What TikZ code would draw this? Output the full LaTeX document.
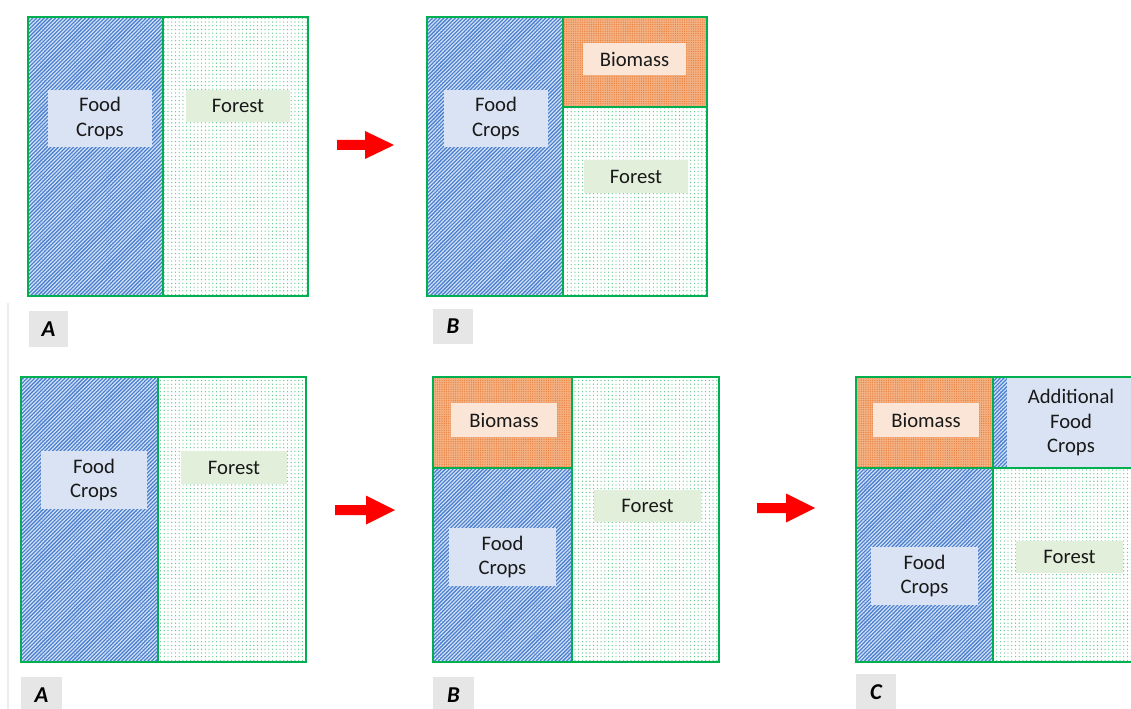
\documentclass[tikz,border=0pt]{standalone}
\usepackage{fontspec}
\setmainfont{Carlito}
\usetikzlibrary{patterns,patterns.meta}
\definecolor{cropblue}{HTML}{4A7FCF}
\definecolor{cropline}{HTML}{D4E2F6}
\definecolor{biofill}{HTML}{F4B183}
\definecolor{biodot}{HTML}{E8803C}
\definecolor{forestdot}{HTML}{5CC88C}
\definecolor{edgegreen}{HTML}{00B050}
\definecolor{foodlbl}{HTML}{DAE3F3}
\definecolor{forestlbl}{HTML}{E2EFDA}
\definecolor{biolbl}{HTML}{FBE5D6}
\definecolor{letterlbl}{HTML}{E7E6E6}
\tikzset{
  cropfill/.style={fill=cropblue, postaction={pattern={Lines[angle=45,distance=2.0pt,line width=0.9pt]}, pattern color=cropline}},
  forestfill/.style={fill=white, postaction={pattern={Dots[radius=0.5pt,distance=2.8pt]}, pattern color=forestdot}},
  biofill/.style={fill=biofill, postaction={pattern={Dots[radius=0.5pt,distance=1.7pt]}, pattern color=biodot}},
  frame/.style={draw=edgegreen, line width=1.1pt},
  lbl/.style n args={3}{fill=#1, minimum width=#2*0.75pt, minimum height=#3*0.75pt, inner sep=0pt, align=center, font=\fontsize{15.5}{18.5}\selectfont, text=black!90},
  letter/.style n args={2}{fill=letterlbl, minimum width=#1*0.75pt, minimum height=#2*0.75pt, inner sep=0pt, font=\fontsize{17}{18}\selectfont\bfseries\itshape},
  bigarrow/.style={fill=red, draw=none},
}
\begin{document}
\begin{tikzpicture}[x=0.75pt,y=-0.75pt]
\clip (0,0) rectangle (1131,709);
\fill[white] (0,0) rectangle (1131,709);
\draw[black!7, line width=0.8pt] (8,303) -- (8,709);

% ---------- top A ----------
\fill[cropfill] (28,17) rectangle (163,296);
\fill[forestfill] (163,17) rectangle (308,296);
\draw[frame] (28,17) rectangle (308,296);
\draw[frame] (163,17) -- (163,296);
\node[lbl={foodlbl}{104}{57}] (tAfood) at (100,118.5) {Food\\Crops};
\node[lbl={forestlbl}{104}{32}] (tAforest) at (238,106) {Forest};
\node[letter={39}{36}] (tAletter) at (48.5,329) {A};

% arrow 1
\fill[bigarrow] (337,140) -- (365,140) -- (365,131) -- (394,145) -- (365,159) -- (365,150) -- (337,150) -- cycle;

% ---------- top B ----------
\fill[cropfill] (427,17) rectangle (563,296);
\fill[biofill] (563,17) rectangle (707,107);
\fill[forestfill] (563,107) rectangle (707,296);
\draw[frame] (427,17) rectangle (707,296);
\draw[frame] (563,17) -- (563,296);
\draw[frame] (563,107) -- (707,107);
\node[lbl={biolbl}{103}{32}] (tBbio) at (634.5,59) {Biomass};
\node[lbl={foodlbl}{104}{57}] (tBfood) at (496,118.5) {Food\\Crops};
\node[lbl={forestlbl}{104}{33}] (tBforest) at (636,176.5) {Forest};
\node[letter={40}{35}] (tBletter) at (453,326) {B};

% ---------- bottom A ----------
\fill[cropfill] (21,377) rectangle (158,662);
\fill[forestfill] (158,377) rectangle (306,662);
\draw[frame] (21,377) rectangle (306,662);
\draw[frame] (158,377) -- (158,662);
\node[lbl={foodlbl}{106}{58}] (bAfood) at (94,480) {Food\\Crops};
\node[lbl={forestlbl}{106}{33}] (bAforest) at (234,467.5) {Forest};
\node[letter={41}{36}] (bAletter) at (41.5,695) {A};

% arrow 2
\fill[bigarrow] (335,505) -- (366,505) -- (366,495.5) -- (395,510) -- (366,524.5) -- (366,515) -- (335,515) -- cycle;

% ---------- bottom B ----------
\fill[biofill] (433,377) rectangle (572,468);
\fill[cropfill] (433,468) rectangle (572,662);
\fill[forestfill] (572,377) rectangle (719,662);
\draw[frame] (433,377) rectangle (719,662);
\draw[frame] (572,377) -- (572,662);
\draw[frame] (433,468) -- (572,468);
\node[lbl={biolbl}{106}{34}] (bBbio) at (504,420) {Biomass};
\node[lbl={foodlbl}{107}{58}] (bBfood) at (502.5,557) {Food\\Crops};
\node[lbl={forestlbl}{107}{32}] (bBforest) at (647.5,506) {Forest};
\node[letter={41}{36}] (bBletter) at (453.5,695) {B};

% arrow 3
\fill[bigarrow] (757,503) -- (786,503) -- (786,493.5) -- (815,508) -- (786,522.5) -- (786,513) -- (757,513) -- cycle;

% ---------- bottom C ----------
\fill[biofill] (856,377) rectangle (993,468);
\fill[cropfill] (993,377) rectangle (1140,468);
\fill[cropfill] (856,468) rectangle (993,662);
\fill[forestfill] (993,468) rectangle (1140,662);
\draw[frame] (856,377) rectangle (1140,662);
\draw[frame] (993,377) -- (993,662);
\draw[frame] (856,468) -- (1140,468);
\node[lbl={biolbl}{106}{34}] (bCbio) at (926,420) {Biomass};
\node[lbl={foodlbl}{128}{89}] (bCadd) at (1071,422.5) {Additional\\Food\\Crops};
\node[lbl={foodlbl}{107}{58}] (bCfood) at (924.5,576) {Food\\Crops};
\node[lbl={forestlbl}{107}{32}] (bCforest) at (1069.5,557) {Forest};
\node[letter={40}{36}] (bCletter) at (876,692) {C};
\end{tikzpicture}
\end{document}
